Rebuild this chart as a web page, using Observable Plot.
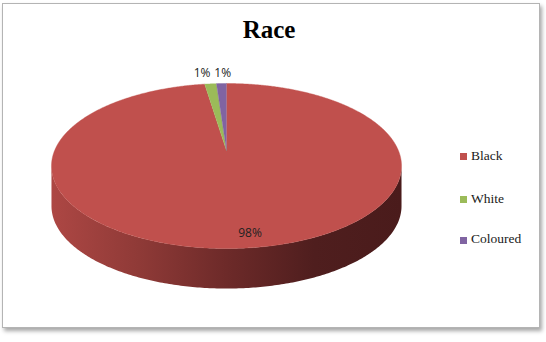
<!DOCTYPE html>
<html>
<head>
<meta charset="utf-8">
<script src="https://cdn.jsdelivr.net/npm/d3@7"></script>
<script src="https://cdn.jsdelivr.net/npm/@observablehq/plot@0.6"></script>
<style>
  html, body { margin: 0; padding: 0; background: #ffffff; }
  #wrap { position: relative; width: 546px; height: 342px; overflow: hidden; }
  #frame { position: absolute; left: 2px; top: 3px; width: 536px; height: 323px;
           border: 1px solid #b4b4b4; box-shadow: 2px 3px 4px rgba(0,0,0,0.35); background: #fff; }
  #chart { position: absolute; left: 0; top: 0; }
  #title { position: absolute; left: 0; top: 16px; width: 538px; text-align: center;
           font-family: "Liberation Serif", "Times New Roman", serif; font-weight: bold;
           font-size: 25px; line-height: 28px; color: #000; }
  .leg { position: absolute; left: 460px; font-family: "Liberation Serif", "Times New Roman", serif;
         font-size: 13.5px; line-height: 14px; color: #1a1a1a; white-space: nowrap; }
  .leg .sw { position: absolute; left: 0; top: 4.5px; width: 7px; height: 7px; }
  .leg .lb { position: absolute; left: 11px; top: 0; }
</style>
</head>
<body>
<div id="wrap">
  <div id="frame"></div>
  <div id="chart"></div>
  <div id="title">Race</div>
</div>
<script>
// ---- data ----
const title = "Race";
const categories = ["Black", "White", "Coloured"];
const values = [97.6, 1.3, 1.1];
const pctLabels = ["98%", "1%", "1%"];
const colors = ["#c0504d", "#9bbb59", "#8064a2"];

// ---- 3D pie geometry (perspective projection of a disk) ----
const W = 546, H = 342;
const cx = 226, cy = 150, a = 171.9, b = 79.6, k = 0.188, depth = 40;
function proj(theta, r = 1, dy = 0) {
  const u = r * Math.sin(theta), v = r * Math.cos(theta);
  const w = 1 + k * v;
  return {x: cx + a * u / w, y: cy - b * v / w + dy};
}

const total = d3.sum(values);
let acc = 0;
const slices = categories.map((c, i) => {
  const t0 = acc / total * 2 * Math.PI;
  acc += values[i];
  const t1 = acc / total * 2 * Math.PI;
  return {key: c, t0, t1, label: pctLabels[i], value: values[i]};
});

// top-face sector polygons
const sectorPts = [];
for (const s of slices) {
  sectorPts.push({key: s.key, x: cx, y: cy});
  const n = Math.max(2, Math.ceil((s.t1 - s.t0) / (Math.PI / 360)));
  for (let j = 0; j <= n; j++) {
    const p = proj(s.t0 + (s.t1 - s.t0) * j / n);
    sectorPts.push({key: s.key, x: p.x, y: p.y});
  }
}

// side (visible front rim)
const tR = Math.acos(-k), tL = 2 * Math.PI - tR;
const sidePts = [];
const ns = 240;
for (let j = 0; j <= ns; j++) { const p = proj(tR + (tL - tR) * j / ns); sidePts.push(p); }
for (let j = ns; j >= 0; j--) { const p = proj(tR + (tL - tR) * j / ns, 1, depth); sidePts.push(p); }

// labels (small outside labels nudged apart like the reference's packed pair)
const labelNudge = [10, -6, 2];
const labelPts = slices.map((s, i) => {
  const mid = (s.t0 + s.t1) / 2;
  const big = s.value > 50;
  const p = proj(mid, big ? 0.875 : 1.19);
  return {x: p.x + labelNudge[i], y: p.y, text: s.label};
});

const plot = Plot.plot({
  width: W, height: H, margin: 0,
  x: {domain: [0, W], axis: null},
  y: {domain: [0, H], reverse: true, axis: null},
  color: {domain: categories, range: colors},
  marks: [
    Plot.line(sidePts, {x: "x", y: "y", fill: "#7a2f2d", stroke: "none", curve: "linear"}),
    Plot.line(sectorPts, {x: "x", y: "y", z: "key", fill: "key", stroke: "key", strokeWidth: 0.4, curve: "linear"}),
    Plot.text(labelPts, {x: "x", y: "y", text: "text", fill: "#222", fontSize: 12,
      fontFamily: "'Open Sans', 'DejaVu Sans', sans-serif", textAnchor: "middle"})
  ]
});
plot.style.background = "transparent";

// side gradient
const svg = d3.select(plot);
const defs = svg.insert("defs", ":first-child");
const grad = defs.append("linearGradient").attr("id", "sideGrad")
  .attr("gradientUnits", "userSpaceOnUse")
  .attr("x1", cx - a / Math.sqrt(1 - k * k)).attr("x2", cx + a / Math.sqrt(1 - k * k))
  .attr("y1", 0).attr("y2", 0);
[["0", "#ad4744"], ["0.25", "#8f3a37"], ["0.5", "#6d2a29"], ["0.75", "#4f1e1e"], ["1", "#4a1b1b"]]
  .forEach(([o, c]) => grad.append("stop").attr("offset", o).attr("stop-color", c));
svg.select("g[aria-label='line'] path").attr("fill", "url(#sideGrad)");

document.getElementById("chart").appendChild(plot);
document.getElementById("title").textContent = title;

// legend
const legendTops = [148.5, 191.5, 232];
const wrap = document.getElementById("wrap");
categories.forEach((c, i) => {
  const row = document.createElement("div");
  row.className = "leg";
  row.style.top = legendTops[i] + "px";
  row.innerHTML = `<span class="sw" style="background:${colors[i]}"></span><span class="lb">${c}</span>`;
  wrap.appendChild(row);
});
</script>
</body>
</html>
